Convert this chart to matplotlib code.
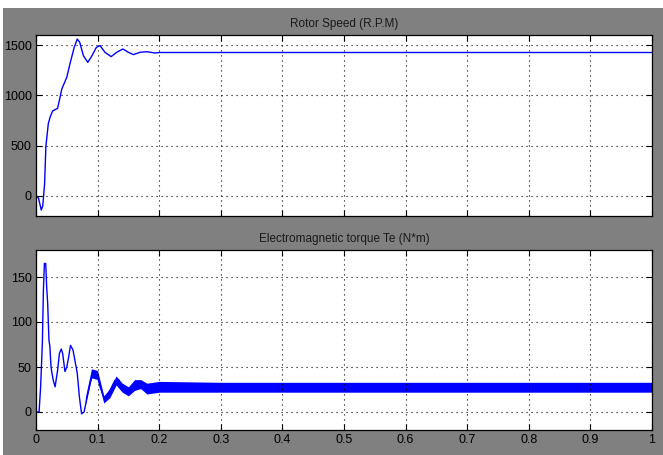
import matplotlib
matplotlib.use("Agg")
import matplotlib.pyplot as plt
from matplotlib.patches import Rectangle

plt.rcParams['font.family'] = ['Liberation Sans', 'DejaVu Sans']

# Rotor speed (R.P.M) samples
speed_t = [0.0, 0.004, 0.0085, 0.011, 0.014, 0.016, 0.020, 0.023, 0.027, 0.035,
           0.042, 0.050, 0.055, 0.062, 0.067, 0.071, 0.077, 0.084, 0.090, 0.098,
           0.104, 0.112, 0.122, 0.131, 0.141, 0.150, 0.158, 0.169, 0.180, 0.193,
           0.200, 0.300, 0.500, 0.700, 1.0]
speed_v = [0, -20, -140, -100, 125, 490, 720, 785, 845, 870,
           1065, 1180, 1310, 1477, 1560, 1527, 1394, 1328, 1384, 1477,
           1494, 1428, 1385, 1428, 1461, 1428, 1405, 1428, 1434, 1421,
           1426, 1426, 1426, 1426, 1426]

# Electromagnetic torque (N*m) samples
torque_t = [0.0, 0.005, 0.0075, 0.0103, 0.012, 0.0136, 0.0158, 0.0173, 0.019, 0.021,
            0.0225, 0.0244, 0.026, 0.0281, 0.031, 0.035, 0.038, 0.041, 0.0433, 0.047,
            0.050, 0.053, 0.056, 0.060, 0.063, 0.067, 0.0704, 0.074, 0.078, 0.082,
            0.088, 0.093, 0.098, 0.104, 0.112, 0.118, 0.128, 0.134, 0.145, 0.153,
            0.163, 0.172, 0.183, 0.200, 0.300, 0.400, 0.500, 0.600, 0.700, 0.800,
            0.900, 1.0]
torque_v = [0, 0, 28, 76, 135, 165, 165, 139, 120, 80,
            73, 50, 43, 35, 28, 46, 65, 70, 65, 45,
            50, 61, 74, 69, 58, 43, 17, -2, 0, 13,
            32, 45, 45, 28, 13, 21, 35, 36, 22, 22,
            32, 28, 24, 28, 27, 27, 27, 27, 27, 27,
            27, 27]

# Ripple band of the torque trace (upper / lower envelope)
band_t = [0.08, 0.09, 0.10, 0.11, 0.12, 0.13, 0.14, 0.15, 0.16, 0.17, 0.18, 0.20, 0.30, 0.50, 0.70, 0.90, 1.0]
band_lo = [8, 38, 36, 10, 16, 30, 22, 18, 24, 26, 20, 22, 22, 22, 22, 22, 22]
band_hi = [16, 48, 46, 18, 26, 40, 32, 28, 36, 36, 32, 34, 33, 33, 33, 33, 33]

x_ticks = [0, 0.1, 0.2, 0.3, 0.4, 0.5, 0.6, 0.7, 0.8, 0.9, 1]
x_labels = ['0', '0.1', '0.2', '0.3', '0.4', '0.5', '0.6', '0.7', '0.8', '0.9', '1']
speed_ticks = [0, 500, 1000, 1500]
torque_ticks = [0, 50, 100, 150]

W, H = 663, 455
fig = plt.figure(figsize=(W / 100, H / 100), dpi=100, facecolor='white')
fig.patches.append(Rectangle((3 / W, 0), 1, (H - 8) / H, transform=fig.transFigure,
                             facecolor='#808080', edgecolor='none', zorder=-1))

ax1 = fig.add_axes([36 / W, (H - 216) / H, 616 / W, 181 / H])
ax2 = fig.add_axes([36 / W, (H - 430) / H, 616 / W, 180 / H])

blue = '#0000ff'
ax1.plot(speed_t, speed_v, color=blue, lw=1.0)
ax2.fill_between(band_t, band_lo, band_hi, color=blue, lw=0)
ax2.plot(torque_t, torque_v, color=blue, lw=1.0)

for ax, yt, ylim, title in [(ax1, speed_ticks, (-200, 1600), 'Rotor Speed (R.P.M)'),
                            (ax2, torque_ticks, (-20, 180), 'Electromagnetic torque Te (N*m)')]:
    ax.set_facecolor('white')
    ax.set_xlim(0, 1)
    ax.set_ylim(*ylim)
    ax.set_xticks(x_ticks)
    ax.set_yticks(yt)
    ax.grid(True, color='black', linestyle=(0, (1, 3.5)), linewidth=0.8)
    ax.tick_params(direction='in', length=4, width=0.8, top=True, right=True,
                   labelsize=9, colors='black', pad=3)
    for s in ax.spines.values():
        s.set_color('black')
        s.set_linewidth(0.9)
    ax.set_title(title, fontsize=8.5, pad=6, color='#1a1a1a')

ax1.set_xticklabels([])
ax2.set_xticklabels(x_labels)

fig.savefig('out.png', dpi=100, facecolor='white')
